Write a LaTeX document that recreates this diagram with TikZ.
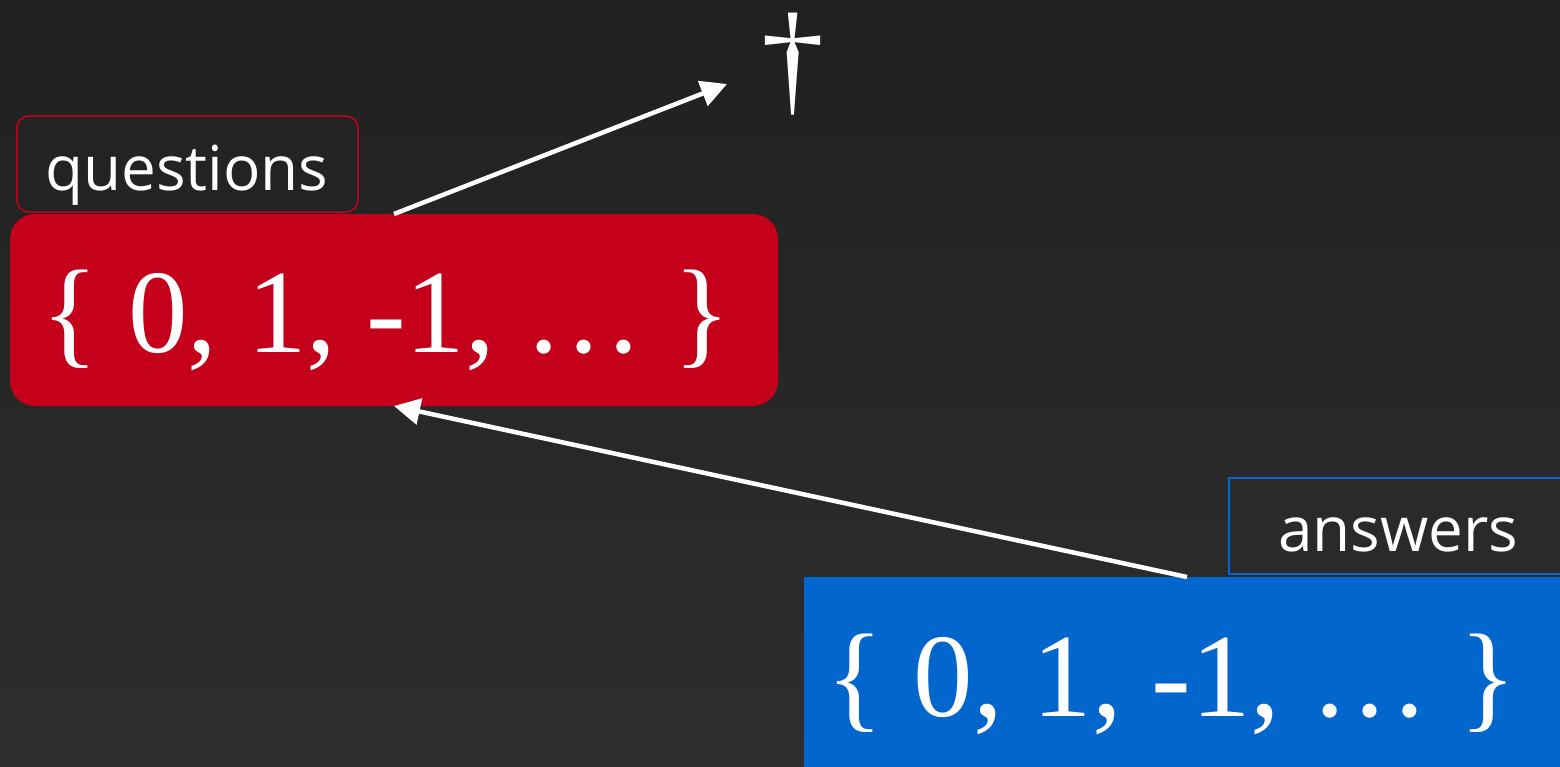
\documentclass[tikz,border=0pt]{standalone}
\usepackage{fontspec}
\setmainfont{Liberation Serif}
\newfontfamily\labelfont{Open Sans}
\usetikzlibrary{arrows.meta}
\definecolor{bgtop}{HTML}{202020}
\definecolor{bgbot}{HTML}{2E2E2E}
\definecolor{qred}{HTML}{C5001A}
\definecolor{ablue}{HTML}{0366CC}
\tikzset{
  setbox/.style={inner sep=0pt, outer sep=0pt},
  settext/.style={text=white, anchor=base, inner sep=0pt, font=\fontsize{119}{130}\selectfont},
  labeltext/.style={text=white, anchor=base, inner sep=0pt, font=\labelfont\fontsize{62}{68}\selectfont},
  labelbox/.style={draw, line width=1.5pt, fill=bgtop!80!bgbot, inner sep=0pt, outer sep=0pt},
  link/.style={draw=white, line width=4.5pt, -{Triangle[length=26pt,width=26pt]}}
}
\begin{document}
\begin{tikzpicture}[x=1pt,y=-1pt]
\shade[top color=bgtop,bottom color=bgbot] (0,0) rectangle (1560,766);
\useasboundingbox (0,0) rectangle (1560,766);
% red set
\node[setbox, fill=qred, rounded corners=25pt, minimum width=768pt, minimum height=192pt] (qset) at (394,310) {};
\node[settext] (qtext) at (386,352) {\{ 0, 1, -1, … \}};
% questions label
\node[labelbox, draw=qred, rounded corners=12pt, minimum width=341pt, minimum height=96pt] (qlab) at (187.5,164) {};
\node[labeltext] (qlabtext) at (187,190) {questions};
% dagger
\node[settext, font=\fontsize{126}{132}\selectfont] (dagger) at (793,100) {†};
\coordinate (dtip) at (727,84);
% blue set
\node[setbox, fill=ablue, minimum width=766pt, minimum height=190pt] (aset) at (1187,672) {};
\node[settext] (atext) at (1171.5,716) {\{ 0, 1, -1, … \}};
% answers label
\node[labelbox, draw=ablue, fill=bgbot!70!bgtop, minimum width=338pt, minimum height=96pt] (alab) at (1398,526) {};
\node[labeltext] (alabtext) at (1398,551) {answers};
% connectors
\draw[link] (qset.north) -- (dtip);
\draw[link] (aset.north) -- (qset.south);
\end{tikzpicture}
\end{document}
